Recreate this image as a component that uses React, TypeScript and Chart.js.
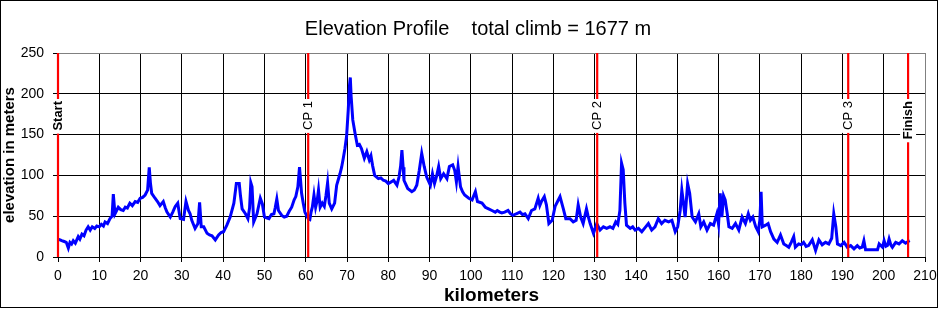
import React, { useEffect, useRef } from 'react';
import { Chart, registerables } from 'chart.js';

Chart.register(...registerables);

const chartTitle = 'Elevation Profile    total climb = 1677 m';
const xAxisTitle = 'kilometers';
const yAxisTitle = 'elevation in meters';

const kmValues = [
  0, 0.5, 0.9, 1.5, 2.0, 2.5, 2.9, 3.3, 3.7, 4.2, 4.9, 5.3, 5.8, 6.3, 6.8, 7.3, 7.8, 8.3, 8.9, 9.4,
  10.0, 10.5, 11.0, 11.4, 12.0, 12.6, 13.1, 13.4, 13.8, 14.2, 14.6, 15.2, 15.8, 16.3, 16.8, 17.4, 18.0, 18.7, 19.3, 19.9,
  20.5, 21.1, 21.7, 22.1, 22.4, 22.7, 23.5, 24.1, 24.7, 25.5, 26.0, 26.4, 27.2, 27.8, 28.4, 29.0, 29.6, 30.4, 31.0, 31.6,
  32.0, 32.4, 33.2, 33.9, 34.3, 34.7, 35.3, 36.1, 36.7, 37.3, 38.1, 38.9, 39.5, 40.1, 40.9, 41.7, 42.6, 43.2, 43.9, 44.2,
  44.6, 45.4, 46.0, 46.4, 46.7, 47.0, 47.4, 48.2, 48.7, 49.0, 49.5, 50.0, 50.5, 51.1, 51.7, 52.3, 52.6, 53.0, 53.4, 54.2,
  54.8, 55.4, 56.0, 56.6, 57.2, 57.6, 58.1, 58.5, 59.0, 59.4, 59.8, 60.3, 60.6, 61.0, 61.3, 61.6, 62.0, 62.4, 62.8, 63.1,
  63.5, 64.0, 64.5, 64.9, 65.3, 65.7, 66.3, 67.0, 67.5, 67.9, 68.3, 68.7, 69.1, 69.5, 69.9, 70.3, 70.6, 70.8, 71.0, 71.4,
  72.0, 72.5, 73.0, 73.5, 74.2, 74.8, 75.4, 75.8, 76.2, 76.7, 77.6, 78.2, 78.8, 79.4, 80.0, 80.7, 81.3, 82.1, 82.6, 83.0,
  83.3, 83.6, 83.8, 84.7, 85.7, 86.3, 86.9, 87.5, 88.1, 88.7, 89.3, 90.2, 90.7, 91.2, 91.7, 92.2, 92.7, 93.4, 94.2, 94.8,
  95.6, 96.1, 96.5, 96.9, 97.5, 98.0, 98.5, 99.5, 100.3, 101.1, 101.6, 102.7, 103.5, 104.3, 105.1, 105.9, 106.4, 107.0, 107.5, 108.2,
  109.0, 109.6, 110.2, 111.0, 111.9, 112.5, 113.1, 113.9, 114.7, 115.5, 116.3, 116.7, 117.1, 117.8, 118.3, 118.9, 119.7, 120.4, 121.0, 121.6,
  122.4, 123.0, 124.0, 124.8, 125.5, 126.0, 126.6, 127.2, 128.0, 128.4, 128.9, 129.7, 130.5, 131.3, 132.1, 132.9, 133.7, 134.4, 135.1, 135.6,
  136.1, 136.5, 136.9, 137.3, 137.7, 138.6, 139.2, 139.8, 140.6, 141.4, 142.2, 143.0, 143.8, 144.6, 145.4, 146.2, 147.0, 147.9, 148.7, 149.5,
  150.1, 150.7, 151.1, 151.5, 151.9, 152.5, 153.0, 153.6, 154.4, 155.2, 155.7, 156.4, 157.2, 158.0, 158.8, 159.6, 160.0, 160.4, 160.8, 161.2,
  161.6, 162.1, 162.5, 163.3, 164.1, 164.9, 165.7, 166.5, 167.2, 167.7, 168.3, 169.0, 169.6, 170.0, 170.3, 170.6, 171.4, 172.0, 172.6, 173.4,
  174.2, 175.0, 175.8, 176.4, 177.0, 177.6, 178.2, 178.6, 179.4, 180.0, 180.6, 181.2, 181.8, 182.7, 183.5, 184.3, 185.1, 185.9, 186.7, 187.4,
  187.9, 188.4, 188.8, 189.6, 190.4, 191.2, 192.0, 192.8, 193.6, 194.2, 194.8, 195.2, 195.6, 196.5, 197.2, 198.0, 198.5, 198.9, 199.7, 200.1,
  200.5, 200.9, 201.3, 201.7, 202.1, 202.9, 203.7, 204.5, 205.3, 205.9, 206.3,
];

const elevationValues = [
  22, 21, 20, 19, 18, 11, 18, 16, 20, 17, 25, 22, 28, 26, 33, 37, 33, 37, 35, 38,
  37, 40, 38, 43, 41, 47, 50, 77, 53, 57, 61, 58, 57, 61, 60, 66, 63, 68, 67, 72,
  73, 76, 82, 110, 90, 78, 72, 68, 63, 68, 60, 55, 49, 55, 62, 66, 47, 46, 68, 57,
  53, 45, 35, 41, 67, 37, 37, 29, 27, 26, 21, 27, 30, 31, 39, 49, 66, 90, 90, 75,
  59, 53, 47, 60, 91, 86, 43, 53, 65, 72, 65, 49, 48, 47, 52, 53, 60, 71, 57, 51,
  49, 50, 56, 61, 70, 74, 86, 110, 78, 66, 55, 50, 47, 46, 55, 61, 76, 61, 70, 82,
  61, 66, 62, 75, 91, 66, 59, 66, 88, 95, 102, 110, 121, 133, 148, 180, 210, 220, 197, 168,
  150, 137, 138, 133, 121, 129, 119, 124, 112, 100, 96, 97, 94, 93, 90, 92, 94, 88, 98, 112,
  131, 110, 94, 84, 80, 82, 88, 106, 127, 111, 98, 88, 102, 90, 99, 111, 96, 102, 96, 111,
  113, 106, 92, 111, 86, 80, 76, 72, 70, 80, 68, 66, 61, 59, 57, 55, 57, 55, 54, 55,
  57, 53, 51, 53, 55, 52, 53, 47, 57, 59, 72, 63, 68, 74, 64, 41, 45, 62, 68, 74,
  59, 47, 47, 43, 45, 64, 49, 41, 59, 50, 41, 29, 41, 33, 37, 35, 37, 35, 43, 40,
  57, 115, 107, 66, 39, 35, 37, 33, 35, 31, 36, 41, 33, 37, 47, 41, 45, 43, 45, 31,
  37, 57, 82, 66, 49, 90, 78, 49, 43, 53, 37, 43, 33, 41, 39, 53, 40, 78, 49, 75,
  70, 53, 37, 35, 41, 33, 49, 41, 53, 45, 49, 37, 31, 45, 80, 37, 39, 41, 31, 22,
  18, 27, 16, 14, 12, 18, 25, 12, 16, 15, 18, 13, 14, 21, 8, 21, 15, 18, 16, 23,
  53, 37, 16, 14, 18, 12, 14, 10, 14, 11, 12, 20, 9, 9, 9, 9, 9, 16, 12, 20,
  13, 14, 22, 15, 12, 18, 16, 20, 17, 19, 20,
];

const checkpointKm = [0, 60.6, 130.6, 191.4, 205.9];
const checkpointLabels = ['Start', 'CP 1', 'CP 2', 'CP 3', 'Finish'];
const checkpointBold = [true, false, false, false, true];

const FONT = '"Liberation Sans", Arial, sans-serif';

const decorPlugin = {
  id: 'decor',
  beforeDraw(chart: any) {
    const ctx = chart.ctx;
    ctx.save();
    ctx.fillStyle = '#ffffff';
    ctx.fillRect(0, 0, chart.width, chart.height);
    ctx.restore();
  },
  afterDatasetsDraw(chart: any) {
    const ctx = chart.ctx;
    const area = chart.chartArea;
    const xs = chart.scales.x;
    ctx.save();
    checkpointKm.forEach((km, i) => {
      const x = xs.getPixelForValue(km);
      ctx.strokeStyle = '#ff0000';
      ctx.lineWidth = 2.2;
      ctx.beginPath();
      ctx.moveTo(x, area.top);
      ctx.lineTo(x, area.bottom);
      ctx.stroke();
      ctx.save();
      ctx.translate(x, 101);
      ctx.rotate(-Math.PI / 2);
      ctx.font = (checkpointBold[i] ? 'bold ' : '') + '13px ' + FONT;
      const w = ctx.measureText(checkpointLabels[i]).width;
      ctx.fillStyle = '#ffffff';
      ctx.fillRect(-w - 3, -8, w + 5, 16);
      ctx.fillStyle = '#000000';
      ctx.textAlign = 'right';
      ctx.textBaseline = 'middle';
      ctx.fillText(checkpointLabels[i], 0, 0);
      ctx.restore();
    });
    ctx.restore();
  },
  afterDraw(chart: any) {
    const ctx = chart.ctx;
    ctx.save();
    ctx.strokeStyle = '#000000';
    ctx.lineWidth = 1;
    ctx.strokeRect(0.5, 0.5, 937, 307);
    ctx.fillStyle = '#000000';
    ctx.font = '20px ' + FONT;
    ctx.textAlign = 'center';
    ctx.textBaseline = 'alphabetic';
    ctx.fillText(chartTitle, 478, 35);
    ctx.restore();
  },
};

export default function App() {
  const canvasRef = useRef<HTMLCanvasElement | null>(null);

  useEffect(() => {
    document.body.style.margin = '0';
    const canvas = canvasRef.current;
    if (!canvas) return;
    const points = kmValues.map((x, i) => ({ x, y: elevationValues[i] }));
    const chart = new Chart(canvas, {
      type: 'line',
      data: {
        datasets: [
          {
            data: points,
            borderColor: '#0000ff',
            borderWidth: 3,
            pointRadius: 0,
            tension: 0,
            fill: false,
          },
        ],
      },
      options: {
        responsive: false,
        animation: false,
        devicePixelRatio: 1,
        layout: { padding: { top: 53, right: 14, left: 0, bottom: 0 } },
        plugins: {
          legend: { display: false },
          title: { display: false },
          tooltip: { enabled: false },
        },
        scales: {
          x: {
            type: 'linear',
            min: 0,
            max: 210,
            afterFit: (s: any) => {
              s.height = 53;
              s.paddingLeft = 0;
              s.paddingRight = 0;
            },
            ticks: {
              stepSize: 10,
              autoSkip: false,
              maxRotation: 0,
              color: '#000000',
              padding: 6,
              font: { family: FONT, size: 14 },
            },
            grid: {
              color: (c: any) => (c.tick && c.tick.value === 210 ? '#808080' : '#000000'),
              tickColor: '#000000',
              tickLength: 5,
              lineWidth: 1,
            },
            border: { color: '#000000', width: 1 },
            title: {
              display: true,
              text: xAxisTitle,
              color: '#000000',
              font: { family: FONT, size: 19, weight: 'bold' },
              padding: { top: 0, bottom: 3 },
            },
          },
          y: {
            min: 0,
            max: 250,
            afterFit: (s: any) => {
              s.width = 58;
              s.paddingTop = 0;
              s.paddingBottom = 0;
            },
            ticks: {
              stepSize: 50,
              color: '#000000',
              padding: 9,
              font: { family: FONT, size: 14 },
            },
            grid: {
              color: (c: any) => (c.tick && c.tick.value === 250 ? '#808080' : '#000000'),
              tickColor: '#000000',
              tickLength: 5,
              lineWidth: 1,
            },
            border: { color: '#000000', width: 1 },
            title: {
              display: true,
              text: yAxisTitle,
              color: '#000000',
              font: { family: FONT, size: 15, weight: 'bold' },
              padding: { top: 1, bottom: 0 },
            },
          },
        },
      },
      plugins: [decorPlugin],
    } as any);
    return () => chart.destroy();
  }, []);

  return <canvas ref={canvasRef} width={939} height={310} style={{ display: 'block' }} />;
}
